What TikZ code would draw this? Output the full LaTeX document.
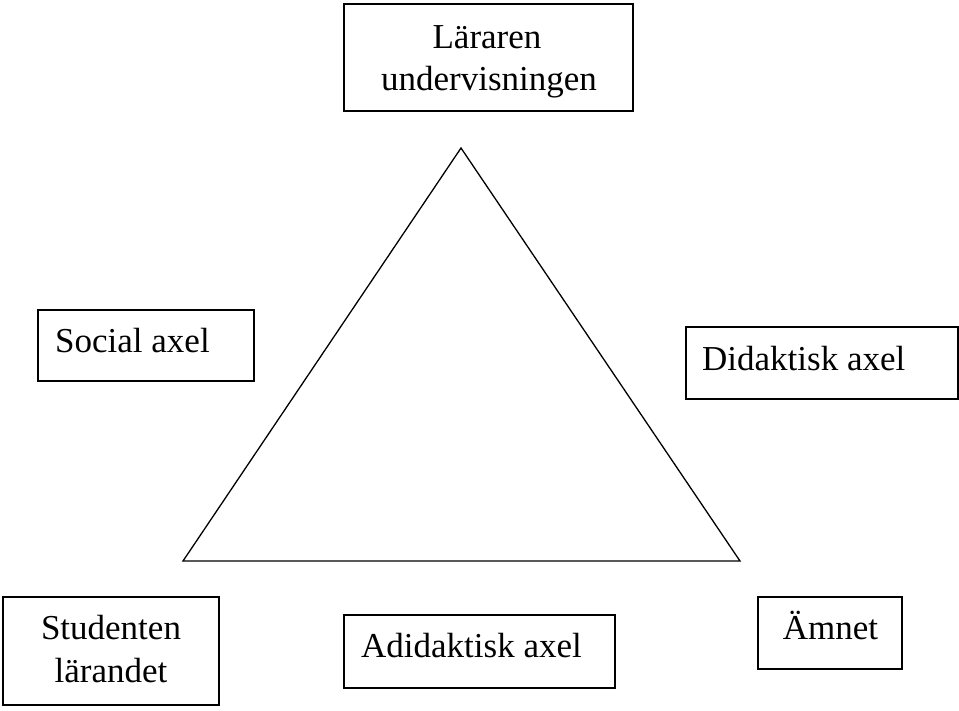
\documentclass[tikz,border=0pt]{standalone}
\usepackage{fontspec}
\setmainfont{Liberation Serif}
\begin{document}
\begin{tikzpicture}[x=1pt,y=-1pt,
  box/.style={draw, line width=1.4pt, inner sep=0pt, fill=white},
  txt/.style={inner sep=0pt, font=\fontsize{35}{42}\selectfont},
  tri/.style={draw, line width=1.3pt, line join=miter}]
\useasboundingbox[fill=white] (0,0) rectangle (959,710);
% boxes
\node[box, minimum width=289pt, minimum height=107pt] (lar) at (488.5,57.5) {};
\node[box, minimum width=216pt, minimum height=71pt] (soc) at (146,345.5) {};
\node[box, minimum width=272pt, minimum height=72pt] (did) at (822,363) {};
\node[box, minimum width=216pt, minimum height=108pt] (stu) at (111,651) {};
\node[box, minimum width=271pt, minimum height=73pt] (adi) at (479.5,651.5) {};
\node[box, minimum width=144pt, minimum height=72pt] (amn) at (830,633) {};
% texts
\node[txt, anchor=base] (larA) at (487,48) {Läraren};
\node[txt, anchor=base] (larB) at (489,90) {undervisningen};
\node[txt, anchor=base west] (socT) at (55,352) {Social axel};
\node[txt, anchor=base west] (didT) at (702,370) {Didaktisk axel};
\node[txt, anchor=base] (stuA) at (111,639) {Studenten};
\node[txt, anchor=base] (stuB) at (111,682) {lärandet};
\node[txt, anchor=base west] (adiT) at (361,657) {Adidaktisk axel};
\node[txt, anchor=base] (amnT) at (830.5,639) {Ämnet};
% triangle
\coordinate (A) at (461,148);
\coordinate (B) at (183,561);
\coordinate (C) at (740,561);
\draw[tri] (A) -- (B) -- (C) -- cycle;
\end{tikzpicture}
\end{document}
